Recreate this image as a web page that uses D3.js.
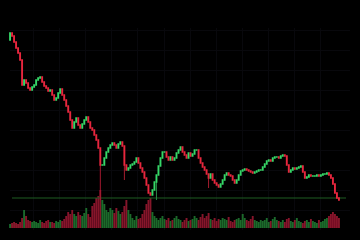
<!DOCTYPE html>
<html>
<head>
<meta charset="utf-8">
<script src="https://cdn.jsdelivr.net/npm/d3@7/dist/d3.min.js"></script>
<style>
  html, body { margin: 0; padding: 0; background: #000; }
  svg { display: block; }
</style>
</head>
<body>
<div class="container"></div>
<script>
// closing prices, one per candle
var closes = [
	177, 174, 168, 162, 157, 150,
	125, 130, 127, 122, 120,
	123, 125, 130, 132, 133,
	128, 124, 122, 119, 120,
	115, 110, 112, 117, 121,
	115, 110, 104, 98, 90,
	82, 88, 92, 85, 82,
	86, 90, 93, 88, 82,
	80, 75, 70, 62, 45,
	45, 52, 58, 62, 65,
	67, 65, 62, 66, 68,
	64, 45, 40, 42, 45,
	46, 48, 52, 47, 42,
	38, 32, 25, 17, 15,
	20, 28, 35, 44, 52,
	58, 58, 53, 50, 53,
	50, 52, 57, 60, 63,
	58, 55, 52, 57, 54,
	56, 60, 60, 52, 47,
	43, 40, 36, 32, 36,
	30, 27, 25, 23, 26,
	30, 35, 37, 35, 34,
	30, 27, 30, 35, 39,
	40, 41, 40, 39, 38,
	37, 38, 39, 40, 40,
	43, 46, 49, 50, 49,
	52, 53, 53, 52, 54,
	55, 54, 45, 38, 40,
	42, 41, 42, 43, 44,
	38, 32, 33, 35, 34,
	34, 34, 35, 34, 35,
	36, 36, 37, 35, 32,
	26, 17, 12, 10
];
var firstOpen = 170;

// a few long lower wicks [candle index, low price]
var longWicks = [[45, 10], [57, 30], [73, 10], [99, 22]];

// traded volume per candle
var volumes = [
	4, 5, 6, 5, 4, 6,
	10, 18, 12, 8, 7,
	6, 7, 6, 5, 8,
	6, 5, 7, 8, 6,
	6, 5, 7, 6, 8,
	7, 9, 12, 16, 14,
	18, 14, 12, 16, 13,
	12, 15, 20, 14, 11,
	22, 25, 30, 32, 38,
	28, 24, 18, 16, 20,
	18, 15, 20, 17, 14,
	16, 22, 28, 18, 14,
	10, 8, 12, 9, 10,
	14, 18, 24, 28, 30,
	16, 12, 10, 8, 10,
	12, 9, 8, 10, 7,
	8, 10, 12, 9, 8,
	6, 8, 10, 7, 8,
	9, 12, 10, 8, 11,
	14, 10, 12, 15, 9,
	8, 10, 7, 9, 8,
	10, 9, 8, 11, 7,
	6, 8, 9, 10, 8,
	14, 10, 8, 7, 9,
	12, 8, 7, 6, 8,
	7, 8, 10, 6, 7,
	9, 11, 8, 7, 6,
	8, 6, 9, 10, 7,
	6, 8, 10, 7, 6,
	5, 7, 8, 6, 9,
	7, 6, 5, 8, 6,
	7, 9, 10, 12, 14,
	16, 14, 12, 10
];

// support level line
var levelPrice = 12;

var width = 360, height = 240;

var candles = closes.map(function(c, i) {
	var o = i === 0 ? firstOpen : closes[i - 1];
	return {i: i, open: o, close: c, vol: volumes[i] || 0};
});
longWicks.forEach(function(w) {
	if (candles[w[0]]) candles[w[0]].low = w[1];
});

var x_scale = d3.scaleBand()
	.domain(candles.map(function(d) { return d.i; }))
	.range([9, 340])
	.padding(0.05);

var y_scale = d3.scaleLinear()
	.domain([0, 180])
	.range([210, 30]);

var vol_scale = d3.scaleLinear()
	.domain([0, 40])
	.range([228, 188]);

var svg = d3.select(".container").append("svg")
	.attr("width", width)
	.attr("height", height);

svg.append("rect")
	.attr("width", width).attr("height", height)
	.attr("fill", "#000");

var defs = svg.append("defs");
defs.append("filter").attr("id", "soft")
	.append("feGaussianBlur").attr("stdDeviation", 0.5);

// very faint grid
var grid = svg.append("g").attr("stroke", "#08080c").attr("stroke-width", 1);
d3.range(12, candles.length, 13).forEach(function(i) {
	var gx = Math.round(x_scale(i)) + 0.5;
	grid.append("line").attr("x1", gx).attr("x2", gx).attr("y1", 28).attr("y2", 230);
});
y_scale.ticks(6).forEach(function(t) {
	var gy = Math.round(y_scale(t)) + 0.5;
	grid.append("line").attr("x1", 10).attr("x2", 350).attr("y1", gy).attr("y2", gy);
});

var up = "#36d868", down = "#e8263e";
var upVol = "#1a6a2c", downVol = "#86152b";

// volume bars
svg.append("g").attr("filter", "url(#soft)")
	.selectAll("rect")
	.data(candles)
	.enter()
	.append("rect")
	.attr("x", function(d) { return x_scale(d.i); })
	.attr("width", x_scale.bandwidth())
	.attr("y", function(d) { return vol_scale(d.vol); })
	.attr("height", function(d) { return vol_scale(0) - vol_scale(d.vol); })
	.attr("fill", function(d) { return d.close >= d.open ? upVol : downVol; });

// level line
svg.append("line")
	.attr("x1", 12).attr("x2", 346)
	.attr("y1", y_scale(levelPrice)).attr("y2", y_scale(levelPrice))
	.attr("stroke", "#1f5c22")
	.attr("stroke-width", 1.2);

var cg = svg.append("g").attr("filter", "url(#soft)");

// wicks
cg.selectAll("line.wick")
	.data(candles.filter(function(d) { return d.low !== undefined; }))
	.enter()
	.append("line")
	.attr("class", "wick")
	.attr("x1", function(d) { return x_scale(d.i) + x_scale.bandwidth() / 2; })
	.attr("x2", function(d) { return x_scale(d.i) + x_scale.bandwidth() / 2; })
	.attr("y1", function(d) { return y_scale(Math.min(d.open, d.close)); })
	.attr("y2", function(d) { return y_scale(d.low); })
	.attr("stroke", function(d) { return d.close >= d.open ? "#2a8a44" : "#a81c30"; })
	.attr("stroke-width", 1);

// bodies
cg.selectAll("rect.body")
	.data(candles)
	.enter()
	.append("rect")
	.attr("class", "body")
	.attr("x", function(d) { return x_scale(d.i); })
	.attr("width", x_scale.bandwidth())
	.attr("y", function(d) { return y_scale(Math.max(d.open, d.close)) - 0.75; })
	.attr("height", function(d) { return Math.abs(y_scale(d.open) - y_scale(d.close)) + 1.5; })
	.attr("fill", function(d) { return d.close >= d.open ? up : down; });
</script>
</body>
</html>
